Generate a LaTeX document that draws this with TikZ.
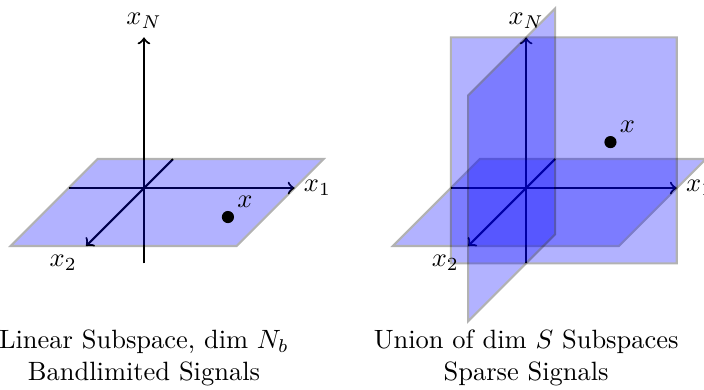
\documentclass[tikz,border=0pt]{standalone}
\usepackage{amsmath,amssymb}
\usepackage{tikz}

\begin{document}
\begin{tikzpicture}[z={(-0.385cm,-0.385cm)},
  plane/.style={draw, thick, fill=blue},
  glass/.style={transparency group, opacity=0.3},
  axis/.style={->, thick}]
  \useasboundingbox (-1.912,-2.669) rectangle (7.437,2.497);

  % Linear subspace (bandlimited)
  \draw[axis] (0,-1,0) -- (0,2,0);
  \draw[axis] (-1,0,0) -- (2,0,0);
  \draw[axis] (0,0,-1) -- (0,0,2);
  \begin{scope}[glass]
    \draw[plane] (-1,0,-1) -- (2,0,-1) -- (2,0,2) -- (-1,0,2) -- cycle;
  \end{scope}
  \node[above] (xNl) at (0,2,0) {$x_N$};
  \node[right] (x1l) at (2,0,0) {$x_1$};
  \node[below left] (x2l) at (0,0,2) {$x_2$};
  \fill (1.5,0,1) circle (2.3pt) node[above right] (ptl) {$x$};
  \node[below, align=center] (capl) at (0,-1.76)
    {Linear Subspace, dim $N_b$\\Bandlimited Signals};

  % Union of subspaces (sparse)
  \begin{scope}[shift={(5.075,0)}]
    \draw[axis] (0,-1,0) -- (0,2,0);
    \draw[axis] (-1,0,0) -- (2,0,0);
    \draw[axis] (0,0,-1) -- (0,0,2);
    \begin{scope}[glass]
      \draw[plane] (-1,0,-1) -- (2,0,-1) -- (2,0,2) -- (-1,0,2) -- cycle;
    \end{scope}
    \begin{scope}[glass]
      \draw[plane] (-1,-1,0) -- (2,-1,0) -- (2,2,0) -- (-1,2,0) -- cycle;
    \end{scope}
    \begin{scope}[glass]
      \draw[plane] (0,-1,-1) -- (0,2,-1) -- (0,2,2) -- (0,-1,2) -- cycle;
    \end{scope}
    \node[above] (xNr) at (0,2,0) {$x_N$};
    \node[right] (x1r) at (2,0,0) {$x_1$};
    \node[below left] (x2r) at (0,0,2) {$x_2$};
    \fill (1.12,0.61,0) circle (2.3pt) node[above right] (ptr) {$x$};
    \node[below, align=center] (capr) at (0,-1.76)
      {Union of dim $S$ Subspaces\\Sparse Signals};
  \end{scope}
\end{tikzpicture}
\end{document}
